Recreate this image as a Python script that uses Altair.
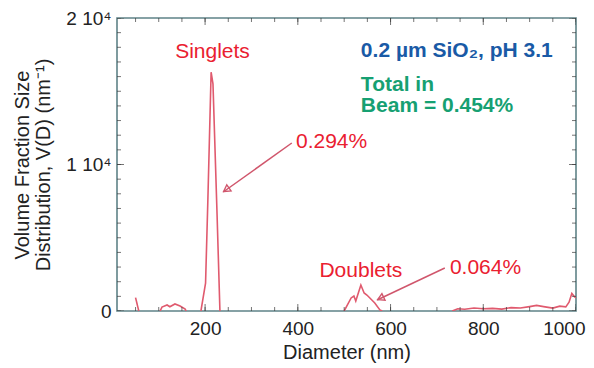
import altair as alt
import pandas as pd

# ---- data ----
seg_ids = ([1] * 2 + [2] * 8 + [3] * 7 + [4] * 10 + [5] * 19)
diam = [50, 57,
        103, 107, 118, 124, 135, 146, 157, 159,
        191, 201, 206, 213, 217, 226, 232,
        500, 515, 521, 525, 536, 543, 549, 566, 577, 582,
        733, 745, 760, 780, 800, 820, 840, 860, 880, 900, 915, 930, 950, 965, 978, 985, 991, 996, 1000]
vd = [910, 0,
      0, 270, 410, 290, 480, 340, 140, 0,
      0, 1900, 7600, 16300, 15500, 6400, 0,
      0, 890, 1020, 680, 1770, 1230, 1090, 550, 70, 0,
      0, 150, 120, 200, 150, 180, 130, 230, 200, 300, 380, 300, 200, 330, 280, 600, 1200, 1000, 900]

x_major = [200, 400, 600, 800, 1000]
x_minor = list(range(50, 1001, 50))
y_major = [0, 10000, 20000]
y_minor = list(range(0, 20001, 1000))

# annotations
arrow_x = [387, 717]
arrow_y = [11468, 2935]
arrow_x2 = [239, 571]
arrow_y2 = [8123, 751]
head_x = [245.7, 578.5]
head_y = [8280, 867]
head_angle = [235, 245]

red_center_text = ["Singlets", "Doublets"]
red_center_x = [216, 536]
red_center_y = [17270, 2321]

red_left_text = ["0.294%", "0.064%"]
red_left_x = [396, 728]
red_left_y = [11126, 2526]

blue_text = ["0.2 µm SiO₂, pH 3.1"]
blue_x = [536]
blue_y = [17338]

green_text = ["Total in", "Beam = 0.454%"]
green_x = [536, 536]
green_y = [15017, 13584]

FONT = "Liberation Sans"
LINE_C = "#e05a6e"
RED = "#ea2030"
ARROW_C = "#d0566c"
BLUE = "#1a5aa6"
GREEN = "#16a072"
TICK_C = "#3a3a3a"

XD = [10, 1000]
YD = [0, 20000]

df = pd.DataFrame({"d": diam, "v": vd, "seg": seg_ids})

xs = alt.Scale(domain=XD, nice=False, zero=False)
ys = alt.Scale(domain=YD, nice=False)

x_axis = alt.Axis(values=x_major, format="d", ticks=False, domain=False, grid=False,
                  labelPadding=8, labelFontSize=19, labelFont=FONT, labelColor="#222",
                  title="Diameter (nm)", titleFontSize=20, titleFont=FONT,
                  titleFontWeight="normal", titleColor="#222", titlePadding=4,
                  labelFlush=True, labelFlushOffset=9, labelOverlap=False)
y_axis = alt.Axis(values=y_major, ticks=False, domain=False, grid=False,
                  labelExpr="datum.value == 0 ? '0' : format(datum.value / 10000, 'd') + ' 10⁴'",
                  labelPadding=6, labelFontSize=19, labelFont=FONT, labelColor="#222",
                  title=["Volume Fraction Size", "Distribution, V(D) (nm⁻¹)"],
                  titleFontSize=20, titleFont=FONT, titleFontWeight="normal",
                  titleColor="#222", titlePadding=12, titleLineHeight=21,
                  labelFlush=False, labelOverlap=False)

line = alt.Chart(df).mark_line(color=LINE_C, strokeWidth=1.6, clip=True).encode(
    x=alt.X("d:Q", scale=xs, axis=x_axis),
    y=alt.Y("v:Q", scale=ys, axis=y_axis),
    detail="seg:N",
)

def xticks(vals, size, yval):
    return alt.Chart(pd.DataFrame({"t": vals})).mark_tick(
        orient="vertical", size=size, thickness=1, color=TICK_C, clip=True
    ).encode(x=alt.X("t:Q", scale=xs), y=alt.Y(datum=yval, scale=ys))

def yticks(vals, size, xval):
    return alt.Chart(pd.DataFrame({"t": vals})).mark_tick(
        orient="horizontal", size=size, thickness=1, color=TICK_C, clip=True
    ).encode(y=alt.Y("t:Q", scale=ys), x=alt.X(datum=xval, scale=xs))

ticks = [
    xticks(x_minor, 8, YD[0]), xticks(x_major, 14, YD[0]),
    xticks(x_minor, 8, YD[1]), xticks(x_major, 14, YD[1]),
    yticks(y_minor, 8, XD[0]), yticks(y_major, 14, XD[0]),
    yticks(y_minor, 8, XD[1]), yticks(y_major, 14, XD[1]),
]

arr_df = pd.DataFrame({"x": arrow_x, "y": arrow_y, "x2": arrow_x2, "y2": arrow_y2,
                       "hx": head_x, "hy": head_y, "ang": head_angle})
arrows = alt.Chart(arr_df).mark_rule(color=ARROW_C, strokeWidth=1.5).encode(
    x=alt.X("x:Q", scale=xs), y=alt.Y("y:Q", scale=ys), x2="x2:Q", y2="y2:Q")
heads = alt.Chart(arr_df).mark_point(shape="triangle-up", filled=False, color=ARROW_C,
                                     strokeWidth=1.4, size=55, opacity=1).encode(
    x=alt.X("hx:Q", scale=xs), y=alt.Y("hy:Q", scale=ys),
    angle=alt.Angle("ang:Q", scale=None))

def texts(txt, xv, yv, color, align, weight, size):
    d = pd.DataFrame({"t": txt, "x": xv, "y": yv})
    return alt.Chart(d).mark_text(align=align, baseline="alphabetic", color=color,
                                  font=FONT, fontSize=size, fontWeight=weight).encode(
        x=alt.X("x:Q", scale=xs), y=alt.Y("y:Q", scale=ys), text="t:N")

labels = [
    texts(red_center_text, red_center_x, red_center_y, RED, "center", "normal", 21),
    texts(red_left_text, red_left_x, red_left_y, RED, "left", "normal", 21),
    texts(blue_text, blue_x, blue_y, BLUE, "left", "bold", 21),
    texts(green_text, green_x, green_y, GREEN, "left", "bold", 21),
]

chart = alt.layer(line, *ticks, arrows, heads, *labels).properties(
    width=459, height=293,
    autosize=alt.AutoSizeParams(type="none"),
    padding={"left": 109, "top": 10, "right": 10, "bottom": 57},
    background="white",
).configure_view(stroke="#5f8388", strokeWidth=1.6)

chart.save("out.html", embed_options={"renderer": "svg", "actions": False})
